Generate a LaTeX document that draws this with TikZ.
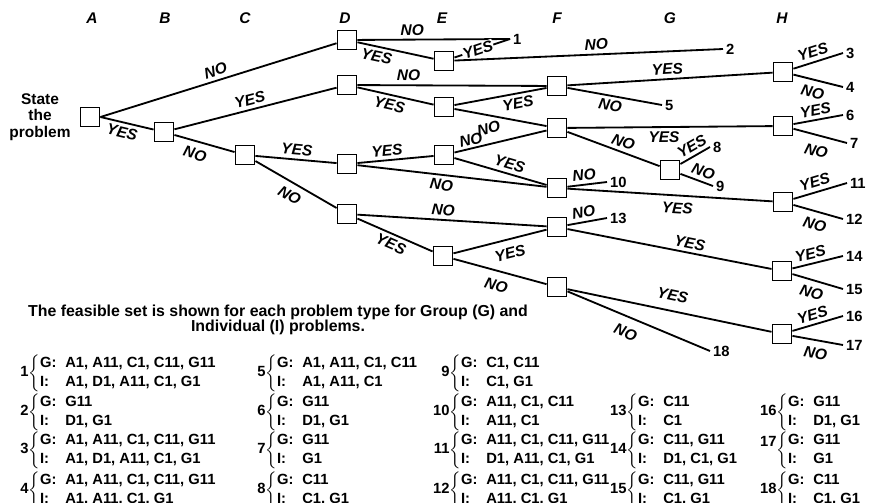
\documentclass[tikz,border=0pt]{standalone}
\usepackage{fontspec}
\setmainfont{Liberation Sans}
\usepackage{amsmath}
\usepackage{tikz}
\usetikzlibrary{positioning}

% conjunto factible: numero, llave, lineas G e I
\newcommand{\conjunto}[3]{%
  \makebox[1.3em][r]{#1}$\left\{\renewcommand{\arraystretch}{1.0}%
  \begin{tabular}{@{}l@{\hspace{0.6em}}l@{}}G: & #2\\ I: & #3\end{tabular}\right.$}

\begin{document}
\begin{tikzpicture}[x=0.025cm, y=-0.025cm,
    caja/.style={draw, line width=1.2pt, minimum size=0.48cm, inner sep=0pt},
    rama/.style={line width=1.3pt},
    etiq/.style={font=\fontsize{11}{11}\selectfont\bfseries\itshape, inner sep=2.5pt, sloped},
    hoja/.style={font=\fontsize{10.5}{11}\selectfont\bfseries, anchor=west, inner sep=2pt},
    columna/.style={font=\fontsize{11}{11}\selectfont\bfseries\itshape},
    lista/.style={font=\fontsize{10.5}{14}\selectfont\bfseries, anchor=west, inner sep=0pt}]

    \useasboundingbox (0,0) rectangle (869,502);

    % Letras de las preguntas
    \node[columna] (colA) at (92,18) {A};
    \node[columna] (colB) at (165,18) {B};
    \node[columna] (colC) at (245,18) {C};
    \node[columna] (colD) at (345,18) {D};
    \node[columna] (colE) at (442,18) {E};
    \node[columna] (colF) at (557,18) {F};
    \node[columna] (colG) at (670,18) {G};
    \node[columna] (colH) at (782,18) {H};

    % Cajas de decision
    \node[caja] (A) at (90,117) {};
    \node[font=\fontsize{11}{11.7}\selectfont\bfseries, align=center] (inicio) at (40,117) {State\\the\\problem};
    \node[caja] (B) at (164,132) {};
    \node[caja] (C) at (245,155) {};
    \node[caja] (D1) at (347,40) {};
    \node[caja] (D2) at (347,85) {};
    \node[caja] (D3) at (347,164) {};
    \node[caja] (D4) at (347,214) {};
    \node[caja] (E1) at (444,61) {};
    \node[caja] (E2) at (444,107) {};
    \node[caja] (E3) at (444,155) {};
    \node[caja] (E4) at (443,256) {};
    \node[caja] (F1) at (557,86) {};
    \node[caja] (F2) at (557,128) {};
    \node[caja] (F3) at (557,188) {};
    \node[caja] (F4) at (557,227) {};
    \node[caja] (F5) at (557,287) {};
    \node[caja] (G1) at (670,170) {};
    \node[caja] (H1) at (783,72) {};
    \node[caja] (H2) at (783,126) {};
    \node[caja] (H3) at (783,202) {};
    \node[caja] (H4) at (782,271) {};
    \node[caja] (H5) at (782,334) {};

    % Tipos de problema (hojas)
    \node[hoja] (n1) at (510,39) {1};
    \node[hoja] (n2) at (723,49) {2};
    \node[hoja] (n3) at (843,53) {3};
    \node[hoja] (n4) at (843,87) {4};
    \node[hoja] (n5) at (662,105) {5};
    \node[hoja] (n6) at (843,115) {6};
    \node[hoja] (n7) at (847,143) {7};
    \node[hoja] (n8) at (710,147) {8};
    \node[hoja] (n9) at (713,186) {9};
    \node[hoja] (n10) at (607,182) {10};
    \node[hoja] (n11) at (847,183) {11};
    \node[hoja] (n12) at (843,219) {12};
    \node[hoja] (n13) at (607,218) {13};
    \node[hoja] (n14) at (843,256) {14};
    \node[hoja] (n15) at (843,289) {15};
    \node[hoja] (n16) at (843,316) {16};
    \node[hoja] (n17) at (843,345) {17};
    \node[hoja] (n18) at (710,351) {18};

    % Ramas desde A, B y C
    \draw[rama] (A.east) -- (D1) node[etiq, above, pos=.5] {NO};
    \draw[rama] (A.east) -- (B) node[etiq, below, pos=.45] {YES};
    \draw[rama] (B) -- (D2) node[etiq, above, pos=.48] {YES};
    \draw[rama] (B) -- (C) node[etiq, below=2pt, pos=.4] {NO};
    \draw[rama] (C) -- (D3) node[etiq, above, pos=.5] {YES};
    \draw[rama] (C) -- (D4) node[etiq, below=2pt, pos=.5] {NO};

    % Ramas desde D
    \draw[rama] (D1) -- (n1.west) node[etiq, above, pos=.36] {NO};
    \draw[rama] (D1) -- (E1) node[etiq, below, pos=.28] {YES};
    \draw[rama] (D2) -- (F1) node[etiq, above, pos=.27] {NO};
    \draw[rama] (D2) -- (E2) node[etiq, below, pos=.45] {YES};
    \draw[rama] (D3) -- (E3) node[etiq, above, pos=.4] {YES};
    \draw[rama] (D3) -- (F3) node[etiq, below, pos=.45] {NO};
    \draw[rama] (D4) -- (F4) node[etiq, above, pos=.45] {NO};
    \draw[rama] (D4) -- (E4) node[etiq, below, pos=.5] {YES};

    % Ramas desde E
    \draw[rama] (E1) -- (n1.west) node[etiq, fill=white, inner sep=0.5pt, pos=.42] {YES};
    \draw[rama] (E1) -- (n2.west) node[etiq, above, pos=.53] {NO};
    \draw[rama] (E2) -- (F1) node[etiq, below, pos=.67] {YES};
    \draw[rama] (E2) -- (F2);
    \draw[rama] (E3) -- (F2) node[etiq, above=-1pt, pos=.2] {NO} node[etiq, above=4pt, pos=.41] {NO};
    \draw[rama] (E3) -- (F3) node[etiq, above, pos=.57] {YES};
    \draw[rama] (E4) -- (F4) node[etiq, below=3pt, pos=.57] {YES};
    \draw[rama] (E4) -- (F5) node[etiq, below=3pt, pos=.5] {NO};

    % Ramas desde F y G
    \draw[rama] (F1) -- (H1) node[etiq, above, pos=.49] {YES};
    \draw[rama] (F1) -- (n5.west) node[etiq, below, pos=.47] {NO};
    \draw[rama] (F2) -- (H2) node[etiq, below, pos=.47] {YES};
    \draw[rama] (F2) -- (G1) node[etiq, above, pos=.57] {NO};
    \draw[rama] (F3) -- (n10.west) node[etiq, above, pos=.45] {NO};
    \draw[rama] (F3) -- (H3) node[etiq, below=2pt, pos=.54] {YES};
    \draw[rama] (F4) -- (n13.west) node[etiq, above, pos=.45] {NO};
    \draw[rama] (F4) -- (H4) node[etiq, above, pos=.59] {YES};
    \draw[rama] (F5) -- (H5) node[etiq, above=4pt, pos=.5] {YES};
    \draw[rama] (F5) -- (n18.west) node[etiq, below=4pt, pos=.45] {NO};
    \draw[rama] (G1) -- (n8.west) node[etiq, above, pos=.55] {YES};
    \draw[rama] (G1) -- (n9.west) node[etiq, above, pos=.6] {NO};

    % Ramas desde H
    \draw[rama] (H1) -- (n3.west) node[etiq, above, pos=.45] {YES};
    \draw[rama] (H1) -- (n4.west) node[etiq, below=2pt, pos=.45] {NO};
    \draw[rama] (H2) -- (n6.west) node[etiq, above, pos=.48] {YES};
    \draw[rama] (H2) -- (n7.west) node[etiq, below=4pt, pos=.5] {NO};
    \draw[rama] (H3) -- (n11.west) node[etiq, above, pos=.45] {YES};
    \draw[rama] (H3) -- (n12.west) node[etiq, below=2pt, pos=.5] {NO};
    \draw[rama] (H4) -- (n14.west) node[etiq, above, pos=.4] {YES};
    \draw[rama] (H4) -- (n15.west) node[etiq, below=2pt, pos=.45] {NO};
    \draw[rama] (H5) -- (n16.west) node[etiq, above, pos=.45] {YES};
    \draw[rama] (H5) -- (n17.west) node[etiq, below=2pt, pos=.5] {NO};

    % Leyenda
    \node[font=\fontsize{11.3}{11}\selectfont\bfseries, align=center] (leyenda) at (278,320)
        {The feasible set is shown for each problem type for Group (G) and\\Individual (I) problems.};

    % Conjuntos factibles
    \node[lista] (c1) at (9,373) {\conjunto{1}{A1, A11, C1, C11, G11}{A1, D1, A11, C1, G1}};
    \node[lista] (c2) at (9,412) {\conjunto{2}{G11}{D1, G1}};
    \node[lista] (c3) at (9,450) {\conjunto{3}{A1, A11, C1, C11, G11}{A1, D1, A11, C1, G1}};
    \node[lista] (c4) at (9,490) {\conjunto{4}{A1, A11, C1, C11, G11}{A1, A11, C1, G1}};
    \node[lista] (c5) at (246,373) {\conjunto{5}{A1, A11, C1, C11}{A1, A11, C1}};
    \node[lista] (c6) at (246,412) {\conjunto{6}{G11}{D1, G1}};
    \node[lista] (c7) at (246,450) {\conjunto{7}{G11}{G1}};
    \node[lista] (c8) at (246,490) {\conjunto{8}{C11}{C1, G1}};
    \node[lista] (c9) at (430,373) {\conjunto{9}{C1, C11}{C1, G1}};
    \node[lista] (c10) at (430,412) {\conjunto{10}{A11, C1, C11}{A11, C1}};
    \node[lista] (c11) at (430,450) {\conjunto{11}{A11, C1, C11, G11}{D1, A11, C1, G1}};
    \node[lista] (c12) at (430,490) {\conjunto{12}{A11, C1, C11, G11}{A11, C1, G1}};
    \node[lista] (c13) at (607,412) {\conjunto{13}{C11}{C1}};
    \node[lista] (c14) at (607,450) {\conjunto{14}{C11, G11}{D1, C1, G1}};
    \node[lista] (c15) at (607,490) {\conjunto{15}{C11, G11}{C1, G1}};
    \node[lista] (c16) at (757,412) {\conjunto{16}{G11}{D1, G1}};
    \node[lista] (c17) at (757,450) {\conjunto{\raisebox{5pt}{17}}{G11}{G1}};
    \node[lista] (c18) at (757,490) {\conjunto{18}{C11}{C1, G1}};
\end{tikzpicture}
\end{document}
